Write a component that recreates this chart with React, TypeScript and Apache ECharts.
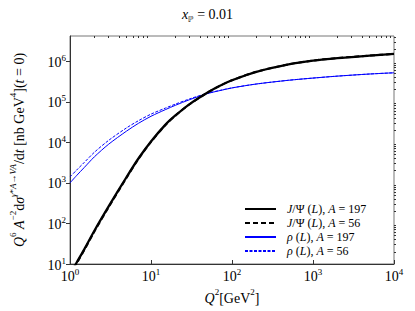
import React, { useEffect, useRef } from 'react';
import * as echarts from 'echarts';

// Q^2 grid [GeV^2]
const q2 = [1, 1.2, 1.5, 2, 3, 5, 7, 10, 15, 20, 30, 50, 70, 100, 200, 500, 1000, 2000, 5000, 10000];
// Q^6 A^-2 dsigma/dt (t=0) [nb GeV^4]
const jpsiA197 = [5.5, 10.6, 23, 66, 263, 1400, 4000, 10500, 27000, 46000, 88000, 170000, 245000, 340000, 550000, 840000, 1040000, 1200000, 1380000, 1520000];
const jpsiA56 = [5.3, 10.1, 22, 63, 252, 1350, 3900, 10300, 26500, 45500, 87000, 169000, 245000, 340000, 550000, 840000, 1040000, 1200000, 1380000, 1520000];
const rhoA197 = [1000, 1500, 2400, 4400, 9000, 19000, 29500, 44000, 64000, 82000, 113000, 160000, 188000, 220000, 275000, 340000, 385000, 430000, 485000, 520000];
const rhoA56 = [1400, 2050, 3200, 5700, 11200, 22800, 34200, 49700, 69800, 87700, 118000, 163000, 190000, 221000, 275000, 340000, 385000, 430000, 485000, 520000];

const seriesNames = ['J/Ψ (L), A = 197', 'J/Ψ (L), A = 56', 'ρ (L), A = 197', 'ρ (L), A = 56'];
const legendLabels = [
  '{i|J}/Ψ ({i|L}), {i|A} = 197',
  '{i|J}/Ψ ({i|L}), {i|A} = 56',
  '{i|ρ} ({i|L}), {i|A} = 197',
  '{i|ρ} ({i|L}), {i|A} = 56',
];

const xMin = 1;
const xMax = 10000;
const yMin = 10;
const yMax = 4.2e6;
const minorDigits = [2, 3, 4, 5, 6, 7, 8, 9];
const xDecades = [1, 10, 100, 1000];
const yDecades = [10, 100, 1000, 10000, 100000, 1000000];

const FONT = 'Liberation Serif';

const pairs = (ys: number[]) => q2.map((x, i) => [x, ys[i]]);

const supRich = {
  r: { fontFamily: FONT, fontSize: 14, color: '#000', lineHeight: 18, verticalAlign: 'bottom' as const },
  i: { fontFamily: FONT, fontSize: 14, color: '#000', fontStyle: 'italic' as const, lineHeight: 18, verticalAlign: 'bottom' as const },
  s: { fontFamily: FONT, fontSize: 9, color: '#000', lineHeight: 9, verticalAlign: 'top' as const },
  si: { fontFamily: FONT, fontSize: 9, color: '#000', fontStyle: 'italic' as const, lineHeight: 9, verticalAlign: 'top' as const },
};

const tickRich = {
  b: { fontFamily: FONT, fontSize: 14, color: '#000', lineHeight: 16, verticalAlign: 'bottom' as const },
  e: { fontFamily: FONT, fontSize: 9, color: '#000', lineHeight: 9, verticalAlign: 'top' as const },
};

const expLabel = (v: number) => `{b|10}{e|${Math.round(Math.log10(v))}}`;

export default function App() {
  const ref = useRef<HTMLDivElement>(null);
  useEffect(() => {
    if (!ref.current) return;
    const chart = echarts.init(ref.current, undefined, { renderer: 'svg' });
    const minorX: number[] = [];
    xDecades.forEach((d) => minorDigits.forEach((m) => minorX.push(d * m)));
    const minorY: number[] = [];
    yDecades.forEach((d) => minorDigits.forEach((m) => { if (d * m <= yMax) minorY.push(d * m); }));

    const lineCommon = { type: 'line' as const, showSymbol: false, symbol: 'none', smooth: 0.3, xAxisIndex: 0, yAxisIndex: 0 };
    chart.setOption({
      animation: false,
      backgroundColor: '#fff',
      title: {
        text: '{i|x}{sub|ℙ}{r| = 0.01}',
        left: 'center',
        top: 2,
        textStyle: {
          fontWeight: 'normal',
          rich: {
            r: { fontFamily: FONT, fontSize: 14, fontWeight: 'normal', color: '#000', lineHeight: 16, verticalAlign: 'top' },
            i: { fontFamily: FONT, fontSize: 14, fontWeight: 'normal', color: '#000', fontStyle: 'italic', lineHeight: 16, verticalAlign: 'top' },
            sub: { fontFamily: 'DejaVu Sans', fontSize: 8, fontWeight: 'normal', color: '#000', lineHeight: 8, verticalAlign: 'bottom' },
          },
        },
      },
      grid: { left: 66, right: 21, top: 36, bottom: 47, show: true, borderColor: '#777', borderWidth: 1 },
      legend: {
        orient: 'vertical',
        left: 239,
        top: 198,
        itemWidth: 31,
        itemHeight: 10,
        itemGap: 2,
        data: seriesNames,
        itemStyle: { opacity: 0 },
        formatter: (name: string) => legendLabels[seriesNames.indexOf(name)],
        textStyle: {
          rich: {
            i: { fontFamily: FONT, fontSize: 12, fontStyle: 'italic', color: '#000' },
          },
          fontFamily: FONT,
          fontSize: 12,
          color: '#000',
          padding: [0, 0, 0, 6],
        },
      },
      xAxis: [
        {
          type: 'log',
          min: xMin,
          max: xMax,
          logBase: 10,
          name: '{i|Q}{s|2}{r|[GeV}{s|2}{r|]}',
          nameLocation: 'middle',
          nameGap: 18,
          nameTextStyle: { rich: supRich },
          axisLine: { show: true, lineStyle: { color: '#333', width: 1 } },
          axisTick: { show: true, inside: true, length: 4, lineStyle: { color: '#333' } },
          axisLabel: { formatter: expLabel, rich: tickRich, margin: 3 },
          splitLine: { show: false },
        },
        {
          type: 'log',
          min: xMin,
          max: xMax,
          logBase: 10,
          axisLine: { show: false },
          axisTick: { show: true, inside: true, length: 2, customValues: minorX, lineStyle: { color: '#333' } },
          axisLabel: { show: false },
          splitLine: { show: false },
        },
      ],
      yAxis: [
        {
          type: 'log',
          min: yMin,
          max: yMax,
          logBase: 10,
          name: '{i|Q}{s|6}{i| A}{s|−2}{r|d}{i|σ}{si|γ}{s|*}{si|A}{s|→}{si|VA}{r|/d}{i|t}{r| [nb GeV}{s|4}{r|](}{i|t}{r| = 0)}',
          nameLocation: 'middle',
          nameRotate: 90,
          nameGap: 44,
          nameTextStyle: { rich: supRich },
          axisLine: { show: true, lineStyle: { color: '#333', width: 1 } },
          axisTick: { show: true, inside: false, length: 4, customValues: yDecades, lineStyle: { color: '#333' } },
          axisLabel: { formatter: expLabel, rich: tickRich, margin: 4, customValues: yDecades },
          splitLine: { show: false },
        },
        {
          type: 'log',
          min: yMin,
          max: yMax,
          logBase: 10,
          axisLine: { show: false },
          axisTick: { show: true, inside: false, length: 2, customValues: minorY, lineStyle: { color: '#333' } },
          axisLabel: { show: false },
          splitLine: { show: false },
        },
      ],
      series: [
        { ...lineCommon, name: seriesNames[0], data: pairs(jpsiA197), lineStyle: { color: '#000', width: 2.3, type: 'solid' }, itemStyle: { color: '#000' }, z: 3 },
        { ...lineCommon, name: seriesNames[1], data: pairs(jpsiA56), lineStyle: { color: '#000', width: 2, type: [5, 3] }, itemStyle: { color: '#000' }, z: 4 },
        { ...lineCommon, name: seriesNames[2], data: pairs(rhoA197), lineStyle: { color: '#0000ff', width: 1, type: 'solid' }, itemStyle: { color: '#0000ff' }, z: 2 },
        { ...lineCommon, name: seriesNames[3], data: pairs(rhoA56), lineStyle: { color: '#0000ff', width: 1, type: [3, 1.5] }, itemStyle: { color: '#0000ff' }, z: 2 },
      ],
    });
    return () => chart.dispose();
  }, []);
  return <div ref={ref} style={{ width: 415, height: 311, position: 'absolute', left: 0, top: 0 }} />;
}
